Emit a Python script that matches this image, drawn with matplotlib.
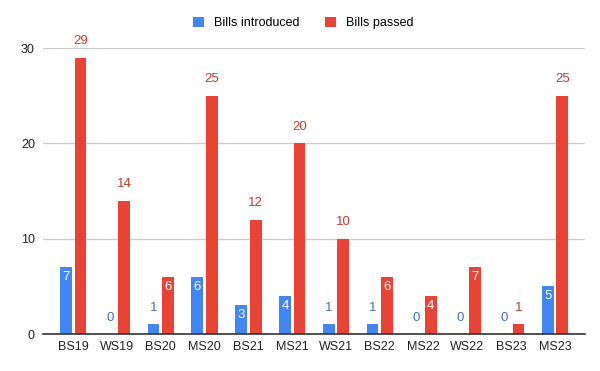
import matplotlib
matplotlib.use("Agg")
import matplotlib.pyplot as plt
import numpy as np

sessions = ["BS19", "WS19", "BS20", "MS20", "BS21", "MS21", "WS21", "BS22", "MS22", "WS22", "BS23", "MS23"]
introduced = [7, 0, 1, 6, 3, 4, 1, 1, 0, 0, 0, 5]
passed = [29, 14, 6, 25, 12, 20, 10, 6, 4, 7, 1, 25]

BLUE = "#4285F4"
RED = "#EA4335"
BLUE_TXT = "#3b6fc9"
RED_TXT = "#c5392b"

plt.rcParams["font.family"] = ["Liberation Sans", "DejaVu Sans"]

fig = plt.figure(figsize=(6, 3.71), dpi=100)
ax = fig.add_axes([0.072, 0.0997, 0.903, 0.7709])

x = np.arange(len(sessions))
w = 0.27
off = 0.165
b1 = ax.bar(x - off, introduced, w, color=BLUE, label="Bills introduced", zorder=3)
b2 = ax.bar(x + off, passed, w, color=RED, label="Bills passed", zorder=3)


def label_bars(bars, vals, txt_color):
    for rect, v in zip(bars, vals):
        cx = rect.get_x() + rect.get_width() / 2
        if 3 <= v <= 9:
            ax.text(cx, v - 0.4, str(v), ha="center", va="top", color="white",
                    fontsize=9.5, zorder=4)
        else:
            ax.text(cx, v + 1.1, str(v), ha="center", va="bottom", color=txt_color,
                    fontsize=9.5, zorder=4, clip_on=False)


label_bars(b1, introduced, BLUE_TXT)
label_bars(b2, passed, RED_TXT)

ax.set_ylim(0, 30)
ax.set_xlim(-0.685, len(sessions) - 1 + 0.685)
ax.set_yticks([0, 10, 20, 30])
ax.set_xticks(x)
ax.set_xticklabels(sessions)
ax.tick_params(axis="both", length=0, labelsize=9, colors="#222222")
ax.tick_params(axis="y", pad=6)
ax.tick_params(axis="x", pad=5)
ax.grid(axis="y", color="#cccccc", linewidth=1, zorder=0)
for s in ["top", "right", "left"]:
    ax.spines[s].set_visible(False)
ax.spines["bottom"].set_color("#333333")
ax.spines["bottom"].set_linewidth(1.2)
ax.spines["bottom"].set_zorder(5)

fig.legend(loc="upper center", bbox_to_anchor=(0.505, 0.985), ncol=2, frameon=False,
           fontsize=9, handlelength=0.9, handleheight=0.9, columnspacing=2.0,
           handletextpad=0.8)

fig.savefig("out.png", dpi=100, facecolor="white")
